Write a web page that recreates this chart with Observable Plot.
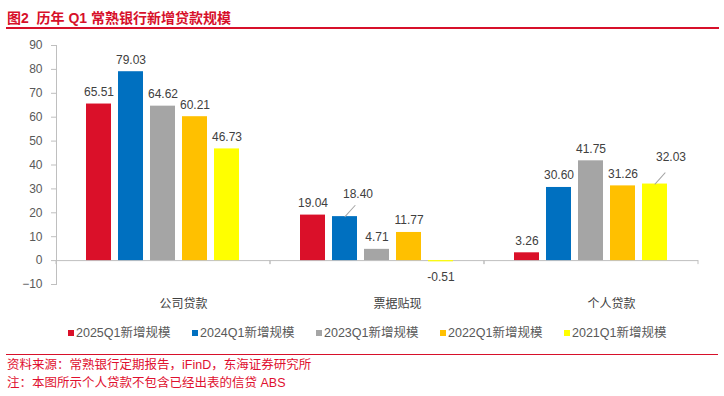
<!DOCTYPE html>
<html><head><meta charset="utf-8">
<script src="https://cdn.jsdelivr.net/npm/d3@7"></script>
<script src="https://cdn.jsdelivr.net/npm/@observablehq/plot@0.6"></script>
<style>
body{margin:0;background:#fff;}
#wrap{position:relative;width:724px;height:396px;overflow:hidden;font-family:"Liberation Sans",Arial,"Noto Sans CJK SC",sans-serif;}
#title{position:absolute;left:7px;top:8px;font-size:14px;font-weight:bold;color:#D7102A;white-space:pre;line-height:20px;}
#tline{position:absolute;left:6px;top:27px;width:713px;height:2px;background:#D7102A;}
#chart{position:absolute;left:0;top:30px;}
#legend{position:absolute;left:68px;top:325px;display:flex;}
.item{width:124px;display:flex;align-items:center;font-size:12.5px;line-height:16px;color:#595959;white-space:nowrap;}
.sw{width:6px;height:6px;margin-right:2px;}
#bline{position:absolute;left:6px;top:354px;width:712px;height:1px;background:#D7102A;}
.note{position:absolute;left:7px;font-size:12.5px;color:#E0102F;line-height:16px;white-space:pre;}
</style></head>
<body>
<div id="wrap">
  <div id="title">图2  历年 Q1 常熟银行新增贷款规模</div>
  <div id="tline"></div>
  <div id="chart"></div>
  <div id="legend"></div>
  <div id="bline"></div>
  <div class="note" style="top:357px">资料来源：常熟银行定期报告，iFinD，东海证券研究所</div>
  <div class="note" style="top:375px">注：本图所示个人贷款不包含已经出表的信贷 ABS</div>
</div>
<script>
const categories = ["公司贷款", "票据贴现", "个人贷款"];
const series = ["2025Q1新增规模", "2024Q1新增规模", "2023Q1新增规模", "2022Q1新增规模", "2021Q1新增规模"];
const v2025 = [65.51, 19.04, 3.26];
const v2024 = [79.03, 18.40, 30.60];
const v2023 = [64.62, 4.71, 41.75];
const v2022 = [60.21, 11.77, 31.26];
const v2021 = [46.73, -0.51, 32.03];
const yTicks = [-10, 0, 10, 20, 30, 40, 50, 60, 70, 80, 90];
const colors = ["#DA1029", "#0070C0", "#A5A5A5", "#FFC000", "#FFFF00"];

const valuesBySeries = [v2025, v2024, v2023, v2022, v2021];
const rows = [];
categories.forEach((c, ci) => series.forEach((s, si) => rows.push({cat: c, series: s, value: valuesBySeries[si][ci]})));

const callA = rows.filter(d => d.cat === "票据贴现" && d.series === "2024Q1新增规模");
const callB = rows.filter(d => d.cat === "个人贷款" && d.series === "2021Q1新增规模");
const callouts = callA.concat(callB);
const normal = rows.filter(d => d.value >= 0 && !callouts.includes(d));
const negative = rows.filter(d => d.value < 0);

const lineShape = {draw(context, l) { context.moveTo(0, 0); context.lineTo(0, -l); }};

function boundaryTicks(index, scales) {
  const {x, y} = scales;
  const g = d3.create("svg:g").attr("stroke", "#bfbfbf");
  const [a, b] = x.range();
  for (const xx of [a, b]) {
    g.append("line").attr("x1", xx).attr("x2", xx).attr("y1", y(0)).attr("y2", y(0) + 4);
  }
  return g.node();
}

const fmt = d => d.value.toFixed(2);
const chart = Plot.plot({
  width: 724,
  height: 285,
  marginTop: 15,
  marginBottom: 31,
  marginLeft: 55,
  marginRight: 26,
  style: {fontFamily: '"Liberation Sans", Arial, "Noto Sans CJK SC", sans-serif', fontSize: "12px", color: "#595959", background: "transparent"},
  fx: {domain: categories, padding: 0},
  x: {domain: series, paddingInner: 0.21, paddingOuter: 0.85, axis: null},
  y: {domain: [-10, 90]},
  color: {domain: series, range: colors},
  marks: [
    Plot.frame({anchor: "left", facetAnchor: "left", stroke: "#bfbfbf"}),
    Plot.ruleY([0], {stroke: "#bfbfbf"}),
    boundaryTicks,
    Plot.barY(rows, {fx: "cat", x: "series", y: "value", fill: "series"}),
    Plot.text(normal, {fx: "cat", x: "series", y: "value", text: fmt, dy: -12, lineAnchor: "middle", fill: "#404040", fontSize: 12}),
    Plot.text(negative, {fx: "cat", x: "series", y: "value", text: fmt, dy: 15, lineAnchor: "middle", fill: "#404040", fontSize: 12}),
    Plot.text(callA, {fx: "cat", x: "series", y: "value", text: fmt, dx: 13, dy: -22, lineAnchor: "middle", fill: "#404040", fontSize: 12}),
    Plot.text(callB, {fx: "cat", x: "series", y: "value", text: fmt, dx: 16, dy: -27, lineAnchor: "middle", fill: "#404040", fontSize: 12}),
    Plot.vector(callouts, {fx: "cat", x: "series", y: "value", length: 15, rotate: 42, anchor: "start", shape: lineShape, stroke: "#a6a6a6", strokeWidth: 1}),
    Plot.axisY({ticks: yTicks, tickSize: 5, tickPadding: 9, stroke: "#bfbfbf", fill: "#595959", fontSize: 12, label: null}),
    Plot.axisFx({anchor: "bottom", tickSize: 0, tickPadding: 15, dx: 20, fill: "#404040", fontSize: 12, label: null})
  ]
});
document.getElementById("chart").appendChild(chart);

const legend = d3.select("#legend");
series.forEach((s, i) => {
  const it = legend.append("div").attr("class", "item");
  it.append("div").attr("class", "sw").style("background", colors[i]);
  it.append("span").text(s);
});
</script>
</body></html>
